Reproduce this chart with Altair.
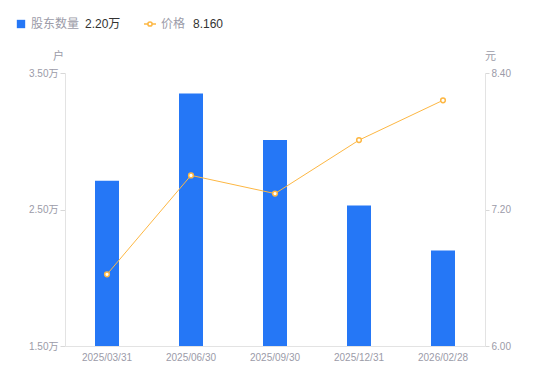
import altair as alt
import pandas as pd

dates = ["2025/03/31", "2025/06/30", "2025/09/30", "2025/12/31", "2026/02/28"]
holders = [2.71, 3.35, 3.01, 2.53, 2.20]   # 万户
prices = [6.63, 7.50, 7.34, 7.81, 8.16]    # 元

df = pd.DataFrame({"date": dates, "holders": holders, "price": prices})

FONT = "Liberation Sans, Noto Sans CJK SC, sans-serif"
GRAY = "#9b9ba8"
BLUE = "#2577F6"
ORANGE = "#FDB743"

x = alt.X("date:N", sort=dates, title=None,
          scale=alt.Scale(paddingInner=0, paddingOuter=0),
          axis=alt.Axis(labelAngle=0, ticks=False, domainColor="#e3e3e3",
                        labelColor=GRAY, labelFontSize=10, labelPadding=6,
                        labelFont=FONT))

base = alt.Chart(df)

bars = base.mark_bar(color=BLUE, size=24, clip=True).encode(
    x=x,
    y=alt.Y("holders:Q", scale=alt.Scale(domain=[1.5, 3.5], nice=False, zero=False),
            axis=alt.Axis(values=[1.5, 2.5, 3.5], labelExpr="format(datum.value, '.2f') + '万'",
                          title="户", titleAngle=0, titleAnchor="end", titleAlign="center",
                          titleX=-7, titleY=-12, titleColor=GRAY, titleFontWeight="normal",
                          titleFontSize=11, titleFont=FONT,
                          grid=False, domainColor="#e3e3e3", tickColor="#d8d8d8", tickSize=5,
                          labelColor=GRAY, labelFontSize=10, labelPadding=2, labelFont=FONT)),
    y2=alt.Y2(datum=1.5),
)

yr = alt.Y("price:Q", scale=alt.Scale(domain=[6.0, 8.4], nice=False, zero=False),
           axis=alt.Axis(orient="right", values=[6.0, 7.2, 8.4], format=".2f",
                         title="元", titleAngle=0, titleAnchor="end", titleAlign="center",
                         titleX=5, titleY=-12, titleColor=GRAY, titleFontWeight="normal",
                         titleFontSize=11, titleFont=FONT,
                         grid=False, domainColor="#e3e3e3", tickColor="#d8d8d8", tickSize=4,
                         labelColor=GRAY, labelFontSize=10, labelPadding=2, labelFont=FONT))

line = base.mark_line(color=ORANGE, strokeWidth=1).encode(x=x, y=yr)
pts = base.mark_point(shape="circle", filled=True, fill="white", stroke=ORANGE,
                      strokeWidth=1.5, size=22, opacity=1).encode(x=x, y=yr)

right = alt.layer(line, pts)

# custom legend (decorative)
one = pd.DataFrame({"a": [0]})
leg_sq = alt.Chart(one).mark_square(color=BLUE, size=70, opacity=1).encode(
    x=alt.value(-44), y=alt.value(-49))
leg_line2 = alt.Chart(one).mark_rule(color=ORANGE, strokeWidth=1.5).encode(
    x=alt.value(79), x2=alt.value(91), y=alt.value(-49))
leg_pt = alt.Chart(one).mark_point(shape="circle", filled=True, fill="white",
                                   stroke=ORANGE, strokeWidth=1.5, size=18,
                                   opacity=1).encode(x=alt.value(85), y=alt.value(-49))

legend_texts = pd.DataFrame({
    "t": ["股东数量", "2.20万", "价格", "8.160"],
    "x": [-34, 20, 96, 128],
    "c": [GRAY, "#333333", GRAY, "#333333"],
})
leg_txt = alt.Chart(legend_texts).mark_text(align="left", baseline="middle", fontSize=12,
                                             font=FONT).encode(
    x=alt.X("x:Q", scale=None), y=alt.value(-49), text="t:N",
    color=alt.Color("c:N", scale=None))

chart = alt.layer(bars, right).resolve_scale(y="independent")
chart = alt.layer(chart, leg_sq, leg_line2, leg_pt, leg_txt).properties(
    width=420, height=273,
    autosize=alt.AutoSizeParams(type="none"),
    padding={"left": 57, "top": 65, "right": 57, "bottom": 27},
).configure_view(stroke=None)

chart.save("out.html", embed_options={"renderer": "svg", "actions": False})
